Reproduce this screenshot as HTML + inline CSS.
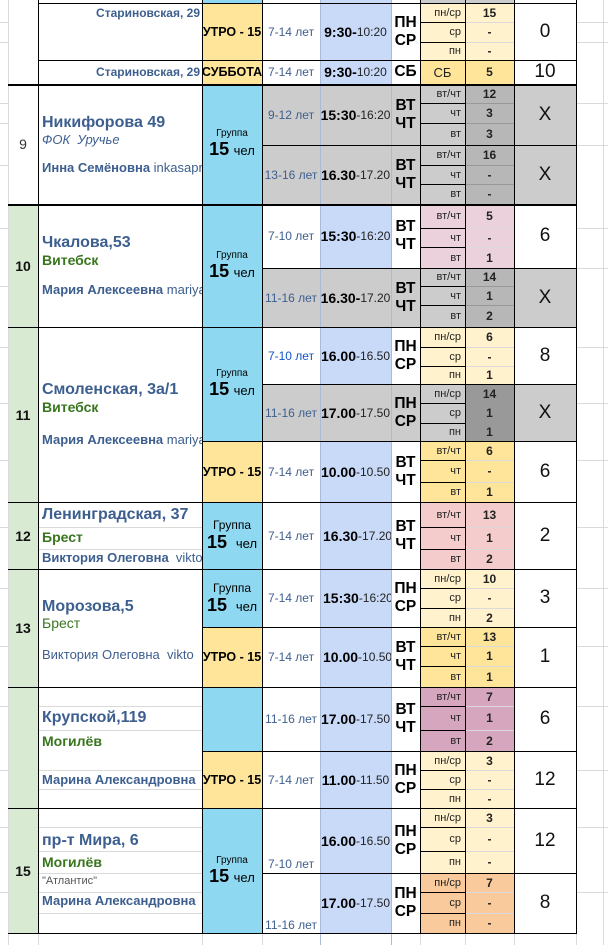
<!DOCTYPE html>
<html><head><meta charset="utf-8"><style>
body{margin:0;width:608px;height:945px;background:#fff;position:relative;overflow:hidden;font-family:"Liberation Sans",Arial,sans-serif}
div{position:absolute;box-sizing:border-box}
.c{display:flex;align-items:center;justify-content:center;overflow:hidden;white-space:nowrap}
.A{left:8px;width:30px}.B{left:38px;width:164px}.C{left:202px;width:60px}.D{left:262px;width:58px}.E{left:320px;width:71px}.F{left:391px;width:29px}.G{left:420px;width:45px;justify-content:flex-end;padding-right:4px;font-size:11px;color:#222}.H{left:465px;width:49px;font-size:12px;font-weight:bold;color:#222}.I{left:514px;width:62px;font-size:19px;color:#111}
.ly{background:#fff2cc}.or{background:#ffe599}.gr{background:#cccccc}.g2{background:#b7b7b7}.g3{background:#999}.bl{background:#8ed9f1}.tb{background:#c9daf8}.pk{background:#ead1dc}.pk2{background:#f4cccc}.pu{background:#d5a6bd}.pe{background:#f9cb9c}.gn{background:#d9ead3}
.age{font-size:12px;color:#3d5f8f}
.tm{font-size:12px;color:#222}.tm b{font-size:14px;color:#000}
.dy{font-size:15.5px;font-weight:bold;line-height:18px;text-align:center;flex-direction:column}
.ut{font-size:12.5px;font-weight:bold;color:#000}
.grp{flex-direction:column;color:#000}.grp span{font-size:10px}.grp b{font-size:18px}.grp i{font-style:normal;font-size:13px;font-weight:normal}
.t{white-space:nowrap;overflow:hidden;left:42px;width:160px;color:#3d5f8f}
.ti{font-size:16px;font-weight:bold}.ct{font-size:14px;font-weight:bold;color:#38761d}.nm{font-size:13px;font-weight:bold}.nm span{font-weight:normal}
.n{font-size:14px;font-weight:bold;color:#111}
.k{background:#000}.l{background:#dadada}
</style></head><body>
<!-- backgrounds top -->
<div class="C bl" style="top:0;height:4px"></div><div class="E tb" style="top:0;height:4px"></div><div class="H gr" style="top:0;height:4px"></div><div class="G gr" style="top:0;height:4px"></div>
<!-- row 8 -->
<div class="c C or ut" style="top:4px;height:56px">УТРО - 15</div>
<div class="c D age" style="top:4px;height:56px">7-14 лет</div>
<div class="c E tb tm" style="top:4px;height:56px"><b>9:30-</b>10:20</div>
<div class="c F dy" style="top:4px;height:56px">ПН<br>СР</div>
<div class="c G ly" style="top:4px;height:18px">пн/ср</div><div class="c G ly" style="top:22px;height:20px">ср</div><div class="c G ly" style="top:42px;height:18px">пн</div>
<div class="c H ly" style="top:4px;height:18px">15</div><div class="c H ly" style="top:22px;height:20px">-</div><div class="c H ly" style="top:42px;height:18px">-</div>
<div class="c I" style="top:4px;height:56px">0</div>
<div class="c C or ut" style="top:60px;height:24px">СУББОТА</div>
<div class="c D age" style="top:60px;height:24px">7-14 лет</div>
<div class="c E tb tm" style="top:60px;height:24px"><b>9:30-</b>10:20</div>
<div class="c F dy" style="top:60px;height:24px">СБ</div>
<div class="c G or" style="top:60px;height:24px;justify-content:center;padding:0;font-size:13px">СБ</div>
<div class="c H or" style="top:60px;height:24px">5</div>
<div class="c I" style="top:60px;height:24px">10</div>
<div class="t nm" style="top:6px;left:40px;width:160px;text-align:right;font-size:12px">Стариновская, 29</div>
<div class="t nm" style="top:65px;left:40px;width:160px;text-align:right;font-size:12px">Стариновская, 29</div>
<!-- row 9 -->
<div class="c A" style="top:84px;height:120px;font-size:14px;color:#333">9</div>
<div class="c C bl grp" style="top:84px;height:120px"><span>Группа</span><div style="position:static"><b>15</b> <i>чел</i></div></div>
<div class="c D gr age" style="top:84px;height:61px">9-12 лет</div>
<div class="c E gr tm" style="top:84px;height:61px"><b>15:30</b>-16:20</div>
<div class="c F gr dy" style="top:84px;height:61px">ВТ<br>ЧТ</div>
<div class="c G gr" style="top:84px;height:19px">вт/чт</div><div class="c G gr" style="top:103px;height:20px">чт</div><div class="c G gr" style="top:123px;height:22px">вт</div>
<div class="c H g2" style="top:84px;height:19px">12</div><div class="c H g2" style="top:103px;height:20px">3</div><div class="c H g2" style="top:123px;height:22px">3</div>
<div class="c I gr" style="top:84px;height:61px">X</div>
<div class="c D gr age" style="top:145px;height:59px">13-16 лет</div>
<div class="c E gr tm" style="top:145px;height:59px"><b>16.30</b>-17.20</div>
<div class="c F gr dy" style="top:145px;height:59px">ВТ<br>ЧТ</div>
<div class="c G gr" style="top:145px;height:20px">вт/чт</div><div class="c G gr" style="top:165px;height:19px">чт</div><div class="c G gr" style="top:184px;height:20px">вт</div>
<div class="c H g2" style="top:145px;height:20px">16</div><div class="c H g2" style="top:165px;height:19px">-</div><div class="c H g2" style="top:184px;height:20px">-</div>
<div class="c I gr" style="top:145px;height:59px">X</div>
<div class="t ti" style="top:114px">Никифорова 49</div>
<div class="t" style="top:132px;font-size:13px;font-style:italic">ФОК&nbsp; Уручье</div>
<div class="t nm" style="top:160px">Инна Семёновна <span>inkasapran</span></div>
<!-- row 10 -->
<div class="c A gn n" style="top:204px;height:123px">10</div>
<div class="c C bl grp" style="top:204px;height:123px"><span>Группа</span><div style="position:static"><b>15</b> <i>чел</i></div></div>
<div class="c D age" style="top:204px;height:64px">7-10 лет</div>
<div class="c E tb tm" style="top:204px;height:64px"><b>15:30</b>-16:20</div>
<div class="c F dy" style="top:204px;height:64px">ВТ<br>ЧТ</div>
<div class="c G pk" style="top:204px;height:24px">вт/чт</div><div class="c G pk" style="top:228px;height:19px">чт</div><div class="c G pk" style="top:247px;height:21px">вт</div>
<div class="c H pk" style="top:204px;height:24px">5</div><div class="c H pk" style="top:228px;height:19px">-</div><div class="c H pk" style="top:247px;height:21px">1</div>
<div class="c I" style="top:204px;height:64px">6</div>
<div class="c D gr age" style="top:268px;height:59px">11-16 лет</div>
<div class="c E gr tm" style="top:268px;height:59px"><b>16.30-</b>17.20</div>
<div class="c F gr dy" style="top:268px;height:59px">ВТ<br>ЧТ</div>
<div class="c G gr" style="top:268px;height:18px">вт/чт</div><div class="c G gr" style="top:286px;height:19px">чт</div><div class="c G gr" style="top:305px;height:22px">вт</div>
<div class="c H g2" style="top:268px;height:18px">14</div><div class="c H g2" style="top:286px;height:19px">1</div><div class="c H g2" style="top:305px;height:22px">2</div>
<div class="c I gr" style="top:268px;height:59px">X</div>
<div class="t ti" style="top:234px">Чкалова,53</div>
<div class="t ct" style="top:252px">Витебск</div>
<div class="t nm" style="top:282px">Мария Алексеевна <span>mariya.fe</span></div>
<!-- row 11 -->
<div class="c A gn n" style="top:327px;height:175px">11</div>
<div class="c C bl grp" style="top:327px;height:114px"><span>Группа</span><div style="position:static"><b>15</b> <i>чел</i></div></div>
<div class="c D age" style="top:327px;height:57px;color:#1155cc">7-10 лет</div>
<div class="c E tb tm" style="top:327px;height:57px"><b>16.00</b>-16.50</div>
<div class="c F dy" style="top:327px;height:57px">ПН<br>СР</div>
<div class="c G ly" style="top:327px;height:20px">пн/ср</div><div class="c G ly" style="top:347px;height:19px">ср</div><div class="c G ly" style="top:366px;height:18px">пн</div>
<div class="c H ly" style="top:327px;height:20px">6</div><div class="c H ly" style="top:347px;height:19px">-</div><div class="c H ly" style="top:366px;height:18px">1</div>
<div class="c I" style="top:327px;height:57px">8</div>
<div class="c D gr age" style="top:384px;height:57px">11-16 лет</div>
<div class="c E gr tm" style="top:384px;height:57px"><b>17.00</b>-17.50</div>
<div class="c F gr dy" style="top:384px;height:57px">ПН<br>СР</div>
<div class="c G gr" style="top:384px;height:19px">пн/ср</div><div class="c G gr" style="top:403px;height:20px">ср</div><div class="c G gr" style="top:423px;height:18px">пн</div>
<div class="c H g3" style="top:384px;height:19px">14</div><div class="c H g3" style="top:403px;height:20px">1</div><div class="c H g3" style="top:423px;height:18px">1</div>
<div class="c I gr" style="top:384px;height:57px">X</div>
<div class="c C or ut" style="top:441px;height:61px">УТРО - 15</div>
<div class="c D age" style="top:441px;height:61px">7-14 лет</div>
<div class="c E tb tm" style="top:441px;height:61px"><b>10.00</b>-10.50</div>
<div class="c F dy" style="top:441px;height:61px">ВТ<br>ЧТ</div>
<div class="c G or" style="top:441px;height:19px">вт/чт</div><div class="c G or" style="top:460px;height:22px">чт</div><div class="c G or" style="top:482px;height:20px">вт</div>
<div class="c H or" style="top:441px;height:19px">6</div><div class="c H or" style="top:460px;height:22px">-</div><div class="c H or" style="top:482px;height:20px">1</div>
<div class="c I" style="top:441px;height:61px">6</div>
<div class="t ti" style="top:381px">Смоленская, 3а/1</div>
<div class="t ct" style="top:399px">Витебск</div>
<div class="t nm" style="top:432px">Мария Алексеевна <span>mariya</span></div>
<!-- row 12 -->
<div class="c A gn n" style="top:502px;height:67px">12</div>
<div class="c C bl grp" style="top:502px;height:67px"><span style="font-size:12px">Группа</span><div style="position:static"><b>15</b>&nbsp; <i>чел</i></div></div>
<div class="c D age" style="top:502px;height:67px">7-14 лет</div>
<div class="c E tb tm" style="top:502px;height:67px;justify-content:flex-start;padding-left:3px"><b>16.30</b>-17.20</div>
<div class="c F dy" style="top:502px;height:67px">ВТ<br>ЧТ</div>
<div class="c G pk2" style="top:502px;height:25px">вт/чт</div><div class="c G pk2" style="top:527px;height:22px">чт</div><div class="c G pk2" style="top:549px;height:20px">вт</div>
<div class="c H pk2" style="top:502px;height:25px">13</div><div class="c H pk2" style="top:527px;height:22px">1</div><div class="c H pk2" style="top:549px;height:20px">2</div>
<div class="c I" style="top:502px;height:67px">2</div>
<div class="t ti" style="top:506px">Ленинградская, 37</div>
<div class="t ct" style="top:529px">Брест</div>
<div class="t nm" style="top:550px">Виктория Олеговна&nbsp; <span>viktoria</span></div>
<!-- row 13 -->
<div class="c A gn n" style="top:569px;height:118px">13</div>
<div class="c C bl grp" style="top:569px;height:58px"><span style="font-size:12px">Группа</span><div style="position:static"><b>15</b>&nbsp; <i>чел</i></div></div>
<div class="c D age" style="top:569px;height:58px">7-14 лет</div>
<div class="c E tb tm" style="top:569px;height:58px;justify-content:flex-start;padding-left:3px"><b>15:30</b>-16:20</div>
<div class="c F dy" style="top:569px;height:58px">ПН<br>СР</div>
<div class="c G ly" style="top:569px;height:19px">пн/ср</div><div class="c G ly" style="top:588px;height:20px">ср</div><div class="c G ly" style="top:608px;height:19px">пн</div>
<div class="c H ly" style="top:569px;height:19px">10</div><div class="c H ly" style="top:588px;height:20px">-</div><div class="c H ly" style="top:608px;height:19px">2</div>
<div class="c I" style="top:569px;height:58px">3</div>
<div class="c C or ut" style="top:627px;height:60px">УТРО - 15</div>
<div class="c D age" style="top:627px;height:60px">7-14 лет</div>
<div class="c E tb tm" style="top:627px;height:60px;justify-content:flex-start;padding-left:3px"><b>10.00</b>-10.50</div>
<div class="c F dy" style="top:627px;height:60px">ВТ<br>ЧТ</div>
<div class="c G or" style="top:627px;height:19px">вт/чт</div><div class="c G or" style="top:646px;height:20px">чт</div><div class="c G or" style="top:666px;height:21px">вт</div>
<div class="c H or" style="top:627px;height:19px">13</div><div class="c H or" style="top:646px;height:20px">1</div><div class="c H or" style="top:666px;height:21px">1</div>
<div class="c I" style="top:627px;height:60px">1</div>
<div class="t ti" style="top:598px">Морозова,5</div>
<div class="t ct" style="top:615px;font-weight:normal">Брест</div>
<div class="t" style="top:647px;font-size:13px">Виктория Олеговна&nbsp; vikto</div>
<!-- row 14 -->
<div class="c A gn" style="top:687px;height:121px"></div>
<div class="c C bl" style="top:687px;height:64px"></div>
<div class="c D age" style="top:687px;height:64px">11-16 лет</div>
<div class="c E tb tm" style="top:687px;height:64px"><b>17.00</b>-17.50</div>
<div class="c F dy" style="top:687px;height:64px">ВТ<br>ЧТ</div>
<div class="c G pu" style="top:687px;height:19px">вт/чт</div><div class="c G pu" style="top:706px;height:24px">чт</div><div class="c G pu" style="top:730px;height:21px">вт</div>
<div class="c H pu" style="top:687px;height:19px">7</div><div class="c H pu" style="top:706px;height:24px">1</div><div class="c H pu" style="top:730px;height:21px">2</div>
<div class="c I" style="top:687px;height:64px">6</div>
<div class="c C or ut" style="top:751px;height:57px">УТРО - 15</div>
<div class="c D age" style="top:751px;height:57px">7-14 лет</div>
<div class="c E tb tm" style="top:751px;height:57px"><b>11.00</b>-11.50</div>
<div class="c F dy" style="top:751px;height:57px">ПН<br>СР</div>
<div class="c G ly" style="top:751px;height:19px">пн/ср</div><div class="c G ly" style="top:770px;height:19px">ср</div><div class="c G ly" style="top:789px;height:19px">пн</div>
<div class="c H ly" style="top:751px;height:19px">3</div><div class="c H ly" style="top:770px;height:19px">-</div><div class="c H ly" style="top:789px;height:19px">-</div>
<div class="c I" style="top:751px;height:57px">12</div>
<div class="t ti" style="top:709px">Крупской,119</div>
<div class="t ct" style="top:733px">Могилёв</div>
<div class="t nm" style="top:772px">Марина Александровна</div>
<!-- row 15 -->
<div class="c A gn n" style="top:808px;height:125px">15</div>
<div class="c C bl grp" style="top:808px;height:125px"><span>Группа</span><div style="position:static"><b>15</b> <i>чел</i></div></div>
<div class="c D age" style="top:808px;height:65px;align-items:flex-end;padding-bottom:2px">7-10 лет</div>
<div class="c E tb tm" style="top:808px;height:65px"><b>16.00</b>-16.50</div>
<div class="c F dy" style="top:808px;height:65px">ПН<br>СР</div>
<div class="c G ly" style="top:808px;height:19px">пн/ср</div><div class="c G ly" style="top:827px;height:24px">ср</div><div class="c G ly" style="top:851px;height:22px">пн</div>
<div class="c H ly" style="top:808px;height:19px">3</div><div class="c H ly" style="top:827px;height:24px">-</div><div class="c H ly" style="top:851px;height:22px">-</div>
<div class="c I" style="top:808px;height:65px">12</div>
<div class="c D age" style="top:873px;height:60px;align-items:flex-end;padding-bottom:1px">11-16 лет</div>
<div class="c E tb tm" style="top:873px;height:60px"><b>17.00</b>-17.50</div>
<div class="c F dy" style="top:873px;height:60px">ПН<br>СР</div>
<div class="c G pe" style="top:873px;height:19px">пн/ср</div><div class="c G pe" style="top:892px;height:21px">ср</div><div class="c G pe" style="top:913px;height:20px">пн</div>
<div class="c H pe" style="top:873px;height:19px">7</div><div class="c H pe" style="top:892px;height:21px">-</div><div class="c H pe" style="top:913px;height:20px">-</div>
<div class="c I" style="top:873px;height:60px">8</div>
<div class="t ti" style="top:832px">пр-т Мира, 6</div>
<div class="t ct" style="top:854px">Могилёв</div>
<div class="t" style="top:875px;font-size:11px;color:#555">"Атлантис"</div>
<div class="t nm" style="top:893px">Марина Александровна</div>

<!-- light grid lines -->
<div class="l" style="left:8px;top:0;width:1px;height:945px"></div>
<div class="l" style="left:320px;top:0;width:1px;height:945px;background:#a9bbd9"></div>
<div class="l" style="left:391px;top:0;width:1px;height:945px;background:#a9bbd9"></div>
<div class="l" style="left:603px;top:0;width:1px;height:945px"></div>
<div class="l" style="left:38px;top:934px;width:1px;height:11px"></div>
<div class="l" style="left:202px;top:934px;width:1px;height:11px"></div>
<div class="l" style="left:262px;top:934px;width:1px;height:11px"></div>
<div class="l" style="left:420px;top:934px;width:1px;height:11px"></div>
<div class="l" style="left:465px;top:934px;width:1px;height:11px"></div>
<div class="l" style="left:514px;top:934px;width:1px;height:11px"></div>
<div class="l" style="left:576px;top:934px;width:1px;height:11px"></div>
<!-- horizontal light lines in margins -->
<div class="l" style="left:0;top:22px;width:8px;height:1px"></div><div class="l" style="left:0;top:42px;width:8px;height:1px"></div><div class="l" style="left:0;top:103px;width:8px;height:1px"></div><div class="l" style="left:0;top:123px;width:8px;height:1px"></div><div class="l" style="left:0;top:165px;width:8px;height:1px"></div><div class="l" style="left:0;top:228px;width:8px;height:1px"></div><div class="l" style="left:0;top:286px;width:8px;height:1px"></div><div class="l" style="left:0;top:347px;width:8px;height:1px"></div><div class="l" style="left:0;top:403px;width:8px;height:1px"></div><div class="l" style="left:0;top:460px;width:8px;height:1px"></div><div class="l" style="left:0;top:527px;width:8px;height:1px"></div><div class="l" style="left:0;top:588px;width:8px;height:1px"></div><div class="l" style="left:0;top:646px;width:8px;height:1px"></div><div class="l" style="left:0;top:706px;width:8px;height:1px"></div><div class="l" style="left:0;top:770px;width:8px;height:1px"></div><div class="l" style="left:0;top:827px;width:8px;height:1px"></div><div class="l" style="left:0;top:892px;width:8px;height:1px"></div>
<div class="l" style="left:576px;top:22px;width:32px;height:1px"></div><div class="l" style="left:576px;top:42px;width:32px;height:1px"></div><div class="l" style="left:576px;top:103px;width:32px;height:1px"></div><div class="l" style="left:576px;top:145px;width:32px;height:1px"></div><div class="l" style="left:576px;top:228px;width:32px;height:1px"></div><div class="l" style="left:576px;top:268px;width:32px;height:1px"></div><div class="l" style="left:576px;top:347px;width:32px;height:1px"></div><div class="l" style="left:576px;top:403px;width:32px;height:1px"></div><div class="l" style="left:576px;top:460px;width:32px;height:1px"></div><div class="l" style="left:576px;top:527px;width:32px;height:1px"></div><div class="l" style="left:576px;top:588px;width:32px;height:1px"></div><div class="l" style="left:576px;top:646px;width:32px;height:1px"></div><div class="l" style="left:576px;top:706px;width:32px;height:1px"></div><div class="l" style="left:576px;top:770px;width:32px;height:1px"></div><div class="l" style="left:576px;top:827px;width:32px;height:1px"></div><div class="l" style="left:576px;top:892px;width:32px;height:1px"></div>
<!-- light lines in address col rows 12,14,15 -->
<div class="l" style="left:39px;top:527px;width:163px;height:1px"></div><div class="l" style="left:39px;top:549px;width:163px;height:1px"></div>
<div class="l" style="left:39px;top:706px;width:163px;height:1px"></div><div class="l" style="left:39px;top:730px;width:163px;height:1px"></div><div class="l" style="left:39px;top:770px;width:163px;height:1px"></div><div class="l" style="left:39px;top:789px;width:163px;height:1px"></div>
<div class="l" style="left:39px;top:827px;width:163px;height:1px"></div><div class="l" style="left:39px;top:851px;width:163px;height:1px"></div><div class="l" style="left:39px;top:873px;width:163px;height:1px"></div><div class="l" style="left:39px;top:892px;width:163px;height:1px"></div><div class="l" style="left:39px;top:913px;width:163px;height:1px"></div>
<div class="l" style="left:262px;top:873px;width:58px;height:1px"></div>
<!-- H column light sub-lines -->
<div class="l" style="left:465px;top:22px;width:49px;height:1px"></div><div class="l" style="left:465px;top:42px;width:49px;height:1px"></div><div class="l" style="left:465px;top:103px;width:49px;height:1px;background:#999"></div><div class="l" style="left:465px;top:123px;width:49px;height:1px;background:#999"></div><div class="l" style="left:465px;top:165px;width:49px;height:1px;background:#999"></div><div class="l" style="left:465px;top:184px;width:49px;height:1px;background:#999"></div><div class="l" style="left:465px;top:228px;width:49px;height:1px"></div><div class="l" style="left:465px;top:247px;width:49px;height:1px"></div><div class="l" style="left:465px;top:286px;width:49px;height:1px;background:#999"></div><div class="l" style="left:465px;top:305px;width:49px;height:1px;background:#999"></div><div class="l" style="left:465px;top:347px;width:49px;height:1px"></div><div class="l" style="left:465px;top:366px;width:49px;height:1px"></div><div class="l" style="left:465px;top:460px;width:49px;height:1px"></div><div class="l" style="left:465px;top:482px;width:49px;height:1px"></div><div class="l" style="left:465px;top:527px;width:49px;height:1px"></div><div class="l" style="left:465px;top:549px;width:49px;height:1px"></div><div class="l" style="left:465px;top:588px;width:49px;height:1px"></div><div class="l" style="left:465px;top:608px;width:49px;height:1px"></div><div class="l" style="left:465px;top:646px;width:49px;height:1px"></div><div class="l" style="left:465px;top:666px;width:49px;height:1px"></div><div class="l" style="left:465px;top:706px;width:49px;height:1px"></div><div class="l" style="left:465px;top:730px;width:49px;height:1px"></div><div class="l" style="left:465px;top:770px;width:49px;height:1px"></div><div class="l" style="left:465px;top:789px;width:49px;height:1px"></div><div class="l" style="left:465px;top:827px;width:49px;height:1px"></div><div class="l" style="left:465px;top:851px;width:49px;height:1px"></div><div class="l" style="left:465px;top:892px;width:49px;height:1px"></div><div class="l" style="left:465px;top:913px;width:49px;height:1px"></div>
<!-- G column black sub-lines -->
<div class="k" style="left:420px;top:22px;width:45px;height:1px"></div><div class="k" style="left:420px;top:42px;width:45px;height:1px"></div><div class="k" style="left:420px;top:103px;width:45px;height:1px"></div><div class="k" style="left:420px;top:123px;width:45px;height:1px"></div><div class="k" style="left:420px;top:165px;width:45px;height:1px"></div><div class="k" style="left:420px;top:184px;width:45px;height:1px"></div><div class="k" style="left:420px;top:228px;width:45px;height:1px"></div><div class="k" style="left:420px;top:247px;width:45px;height:1px"></div><div class="k" style="left:420px;top:286px;width:45px;height:1px"></div><div class="k" style="left:420px;top:305px;width:45px;height:1px"></div><div class="k" style="left:420px;top:347px;width:45px;height:1px"></div><div class="k" style="left:420px;top:366px;width:45px;height:1px"></div><div class="k" style="left:420px;top:403px;width:45px;height:1px"></div><div class="k" style="left:420px;top:423px;width:45px;height:1px"></div><div class="k" style="left:420px;top:460px;width:45px;height:1px"></div><div class="k" style="left:420px;top:482px;width:45px;height:1px"></div><div class="k" style="left:420px;top:527px;width:45px;height:1px"></div><div class="k" style="left:420px;top:549px;width:45px;height:1px"></div><div class="k" style="left:420px;top:588px;width:45px;height:1px"></div><div class="k" style="left:420px;top:608px;width:45px;height:1px"></div><div class="k" style="left:420px;top:646px;width:45px;height:1px"></div><div class="k" style="left:420px;top:666px;width:45px;height:1px"></div><div class="k" style="left:420px;top:706px;width:45px;height:1px"></div><div class="k" style="left:420px;top:730px;width:45px;height:1px"></div><div class="k" style="left:420px;top:770px;width:45px;height:1px"></div><div class="k" style="left:420px;top:789px;width:45px;height:1px"></div><div class="k" style="left:420px;top:827px;width:45px;height:1px"></div><div class="k" style="left:420px;top:851px;width:45px;height:1px"></div><div class="k" style="left:420px;top:892px;width:45px;height:1px"></div><div class="k" style="left:420px;top:913px;width:45px;height:1px"></div>
<!-- black vertical lines -->
<div class="k" style="left:38px;top:0;width:1px;height:934px"></div>
<div class="k" style="left:202px;top:0;width:1px;height:934px"></div>
<div class="k" style="left:262px;top:0;width:1px;height:934px"></div>
<div class="k" style="left:420px;top:0;width:1px;height:934px"></div>
<div class="k" style="left:465px;top:0;width:1px;height:934px"></div>
<div class="k" style="left:514px;top:0;width:1px;height:934px"></div>
<div class="k" style="left:576px;top:0;width:1px;height:934px"></div>
<!-- black horizontal lines -->
<div class="k" style="left:38px;top:3px;width:539px;height:1px"></div>
<div class="k" style="left:38px;top:60px;width:539px;height:1px"></div>
<div class="k" style="left:8px;top:84px;width:569px;height:2px"></div>
<div class="k" style="left:262px;top:145px;width:315px;height:1px"></div>
<div class="k" style="left:8px;top:204px;width:569px;height:2px"></div>
<div class="k" style="left:262px;top:268px;width:315px;height:1px"></div>
<div class="k" style="left:8px;top:327px;width:569px;height:1px"></div>
<div class="k" style="left:262px;top:384px;width:315px;height:1px"></div>
<div class="k" style="left:202px;top:441px;width:375px;height:1px"></div>
<div class="k" style="left:8px;top:502px;width:569px;height:1px"></div>
<div class="k" style="left:8px;top:569px;width:569px;height:1px"></div>
<div class="k" style="left:202px;top:627px;width:375px;height:1px"></div>
<div class="k" style="left:8px;top:687px;width:569px;height:1px"></div>
<div class="k" style="left:202px;top:751px;width:375px;height:1px"></div>
<div class="k" style="left:8px;top:808px;width:569px;height:1px"></div>
<div class="k" style="left:262px;top:873px;width:315px;height:1px"></div>
<div class="k" style="left:8px;top:933px;width:569px;height:1px"></div>
</body></html>
